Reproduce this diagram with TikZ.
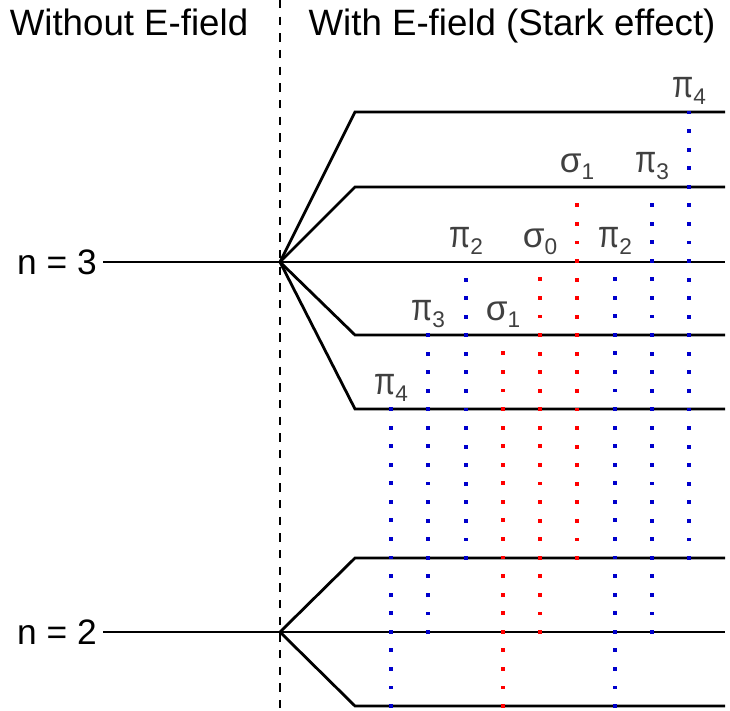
\documentclass[tikz,border=0pt]{standalone}
\usepackage{fontspec}
\setmainfont{Liberation Sans}
\usepackage{graphicx}
\definecolor{lineblue}{RGB}{0,0,204}
\definecolor{linered}{RGB}{255,0,0}
\definecolor{labelgray}{RGB}{64,64,64}
\usetikzlibrary{positioning,calc}

\newcommand{\trpi}{\scalebox{1.05}[1.3]{π}}
\newcommand{\trsigma}{\scalebox{1.2}{σ}}
\newcommand{\trlabel}[2]{#1\raisebox{-5pt}{\fontsize{17}{17}\selectfont #2}}

\begin{document}
\begin{tikzpicture}[x=0.75pt, y=-0.75pt,
    level/.style={line width=2.1pt},
    trans/.style={line width=2.9pt, line cap=rect, dash pattern=on 0.01pt off 13.91pt},
    tlabel/.style={anchor=base, text=labelgray, font=\fontsize{22}{22}\selectfont, inner sep=0pt},
    header/.style={anchor=base, font=\fontsize{27.5}{27.5}\selectfont, inner sep=0pt},
    nlabel/.style={anchor=east, font=\fontsize{26.5}{26.5}\selectfont, inner sep=0pt}]

    \useasboundingbox (0,0) rectangle (730,710);

    % Headers
    \node[header] (without) at (129,36) {Without E-field};
    \node[header] (with) at (512,36) {With E-field (Stark effect)};

    % Divider
    \coordinate (divtop) at (280,0);
    \coordinate (divbot) at (280,710);
    \draw[line width=2pt, dash pattern=on 6.25pt off 6.25pt] (divtop) -- (divbot);

    % Levels without field
    \coordinate (s3) at (280,262);
    \coordinate (s2) at (280,632);
    \node[nlabel] (n3) at (97,262) {n = 3};
    \node[nlabel] (n2) at (97,632) {n = 2};
    \draw[level] ([xshift=4.5pt]n3.east) -- (s3);
    \draw[level] ([xshift=4.5pt]n2.east) -- (s2);

    % Stark split levels
    \foreach \y [count=\i] in {112,187,262,335,409}
        \draw[level] (s3) -- (355,\y) -- (725,\y) coordinate (u\i);
    \foreach \y [count=\i] in {558,632,706}
        \draw[level] (s2) -- (355,\y) -- (725,\y) coordinate (l\i);

    % Transitions
    \foreach \x/\up/\lo/\col/\glyph/\sub in {
        391/5/3/lineblue/\trpi/4, 428/4/2/lineblue/\trpi/3, 466/3/1/lineblue/\trpi/2,
        503/4/3/linered/\trsigma/1, 540/3/2/linered/\trsigma/0, 577/2/1/linered/\trsigma/1,
        615/3/3/lineblue/\trpi/2, 652/2/2/lineblue/\trpi/3, 689/1/1/lineblue/\trpi/4}
    {
        \draw[trans, \col] (\x,0 |- l\lo) -- (\x,0 |- u\up) coordinate (t\x);
        \node[tlabel] (lab\x) at ([yshift=11pt]t\x) {\trlabel{\glyph}{\sub}};
    }
\end{tikzpicture}
\end{document}
